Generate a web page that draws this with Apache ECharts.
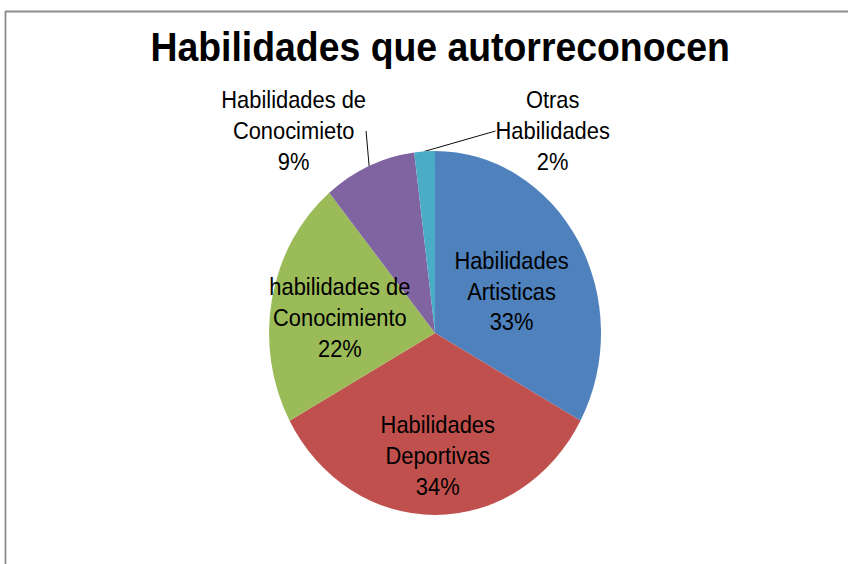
<!DOCTYPE html>
<html>
<head>
<meta charset="utf-8">
<script src="https://cdn.jsdelivr.net/npm/echarts@6/dist/echarts.min.js"></script>
<style>
    html, body { margin: 0; padding: 0; background: #fff; overflow: hidden; }
    /* la imagen original esta comprimida a lo ancho: se dibuja mas ancho y se escala */
    #chart { width: 930px; height: 564px; transform: scaleX(0.912); transform-origin: 0 0; }
</style>
</head>
<body>
<div id="chart"></div>
<script>
    // datos del grafico
    var categories = ['Habilidades\nArtisticas', 'Habilidades\nDeportivas', 'habilidades de\nConocimiento', 'Habilidades de\nConocimieto', 'Otras\nHabilidades'];
    var values = [33, 34, 22, 9, 2];
    var colors = ['#4F81BD', '#C0504D', '#9BBB59', '#8064A2', '#4BACC6'];
    var outside = [false, false, false, true, true];

    var font = '"Liberation Sans", Arial, sans-serif';

    var chart = echarts.init(document.getElementById('chart'), null, {renderer: 'svg'});

    var data = categories.map(function (name, i) {
        var item = {name: name, value: values[i], itemStyle: {color: colors[i]}};
        if (outside[i]) {
            item.label = {position: 'outside'};
            item.labelLine = {show: true};
        }
        return item;
    });

    var option = {
        animation: false,
        title: {
            text: 'Habilidades que autorreconocen',
            left: 160,
            top: 21,
            textStyle: {fontFamily: font, fontWeight: 'bold', fontSize: 41, color: '#000'}
        },
        graphic: [
            {type: 'line', shape: {x1: 5.5, y1: 11.5, x2: 930, y2: 11.5}, style: {stroke: '#8c8c8c', lineWidth: 2}},
            {type: 'line', shape: {x1: 6, y1: 11, x2: 6, y2: 564}, style: {stroke: '#8c8c8c', lineWidth: 2}}
        ],
        series: [{
            type: 'pie',
            center: [477, 333],
            radius: 182,
            startAngle: 90,
            clockwise: true,
            avoidLabelOverlap: false,
            label: {
                show: true,
                position: 'inside',
                formatter: function (p) { return p.name + '\n' + p.value + '%'; },
                fontFamily: font,
                fontSize: 24,
                lineHeight: 31,
                color: '#000',
                align: 'center'
            },
            labelLine: {show: false, length: 14, length2: 0, lineStyle: {color: '#000', width: 1}},
            labelLayout: function (p) {
                if (p.dataIndex === 0) return {dx: 3, dy: 6};
                if (p.dataIndex === 1) return {dx: 3, dy: 29};
                if (p.dataIndex === 2) return {dx: -12, dy: 2};
                if (p.dataIndex === 3) return {x: 322, y: 131, align: 'center', verticalAlign: 'middle'};
                if (p.dataIndex === 4) return {x: 606, y: 131, align: 'center', verticalAlign: 'middle'};
            },
            emphasis: {disabled: true},
            data: data
        }]
    };
    chart.setOption(option);
</script>
</body>
</html>
